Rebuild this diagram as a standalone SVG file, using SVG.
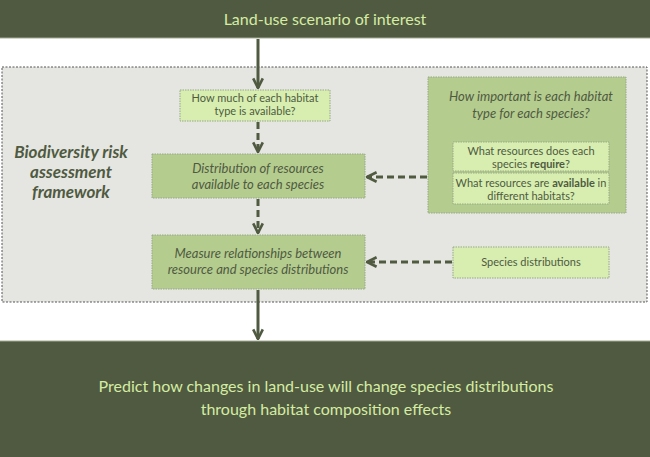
<svg xmlns="http://www.w3.org/2000/svg" width="650" height="457" viewBox="0 0 650 457">
<style>
.bar{fill:#4f5a41;stroke:#a3ab95;stroke-width:1}
.bt{fill:#d5eca2;font-family:Lato,"Open Sans",sans-serif;text-anchor:middle}
.light{fill:#d7eeb0;stroke:#97a886;stroke-width:1;stroke-dasharray:1.5 1}
.mid{fill:#b5cc8f;stroke:#97a886;stroke-width:1;stroke-dasharray:1.5 1}
.t{fill:#4f5a41;font-family:Lato,"Open Sans",sans-serif;text-anchor:middle;font-size:11px}
.it{fill:#4f5a41;font-family:Lato,"Open Sans",sans-serif;text-anchor:middle;font-style:italic;font-size:13px}
.solid{stroke:#4f5a41;stroke-width:3;fill:none}
.dash{stroke:#4f5a41;stroke-width:3;fill:none;stroke-dasharray:7 4}
</style>
<defs>
<marker id="ah" viewBox="0 0 10 10" refX="9" refY="5" markerWidth="4" markerHeight="4" orient="auto" markerUnits="strokeWidth">
<path d="M1,1 L9,5 L1,9" fill="none" stroke="#4f5a41" stroke-width="2.2"/>
</marker>
</defs>
<rect width="650" height="457" fill="#ffffff"/>
<g id="top">
<rect class="bar" x="-1" y="-1" width="652" height="39"/>
<text class="bt" x="325" y="25" font-size="16">Land-use scenario of interest</text>
</g>
<g id="framework">
<rect x="2" y="67" width="645" height="235" fill="#e5e6e1" stroke="#555" stroke-width="1" stroke-dasharray="2 1.5"/>
<text fill="#4f5a41" font-family="Lato,'Open Sans',sans-serif" font-weight="bold" font-style="italic" font-size="17" text-anchor="middle"><tspan x="71" y="158">Biodiversity risk</tspan><tspan x="71" y="178">assessment</tspan><tspan x="71" y="198">framework</tspan></text>
</g>
<g id="bottom">
<rect class="bar" x="-1" y="341" width="652" height="117"/>
<text class="bt" font-size="16"><tspan x="326" y="392">Predict how changes in land-use will change species distributions</tspan><tspan x="326" y="415">through habitat composition effects</tspan></text>
</g>
<g id="how-much">
<rect class="light" x="180" y="90" width="150" height="31"/>
<text class="t"><tspan x="255" y="102">How much of each habitat</tspan><tspan x="255" y="115">type is available?</tspan></text>
</g>
<g id="distribution">
<rect class="mid" x="152" y="154" width="213" height="44"/>
<text class="it"><tspan x="258" y="173">Distribution of resources</tspan><tspan x="258" y="189">available to each species</tspan></text>
</g>
<g id="importance">
<rect class="mid" x="428" y="77" width="198" height="136"/>
<text class="it"><tspan x="531" y="101">How important is each habitat</tspan><tspan x="531" y="118">type for each species?</tspan></text>
</g>
<g id="require">
<rect class="light" x="453" y="142" width="156" height="29"/>
<text class="t"><tspan x="531" y="155">What resources does each</tspan><tspan x="531" y="168">species <tspan font-weight="bold">require</tspan>?</tspan></text>
</g>
<g id="available">
<rect class="light" x="453" y="173" width="156" height="31"/>
<text class="t"><tspan x="531" y="187">What resources are <tspan font-weight="bold">available</tspan> in</tspan><tspan x="531" y="200">different habitats?</tspan></text>
</g>
<g id="measure">
<rect class="mid" x="152" y="235" width="213" height="54"/>
<text class="it"><tspan x="258" y="258">Measure relationships between</tspan><tspan x="258" y="274">resource and species distributions</tspan></text>
</g>
<g id="species">
<rect class="light" x="453" y="247" width="156" height="31"/>
<text class="t" x="531" y="266">Species distributions</text>
</g>
<g id="connectors">
<line class="solid" x1="258" y1="39" x2="258" y2="88" marker-end="url(#ah)"/>
<line class="dash" x1="258" y1="122" x2="258" y2="152" marker-end="url(#ah)"/>
<line class="dash" x1="258" y1="199" x2="258" y2="233" marker-end="url(#ah)"/>
<line class="solid" x1="258" y1="290" x2="258" y2="339" marker-end="url(#ah)"/>
<line class="dash" x1="427" y1="177" x2="367" y2="177" marker-end="url(#ah)"/>
<line class="dash" x1="452" y1="262" x2="367" y2="262" marker-end="url(#ah)"/>
</g>
</svg>
